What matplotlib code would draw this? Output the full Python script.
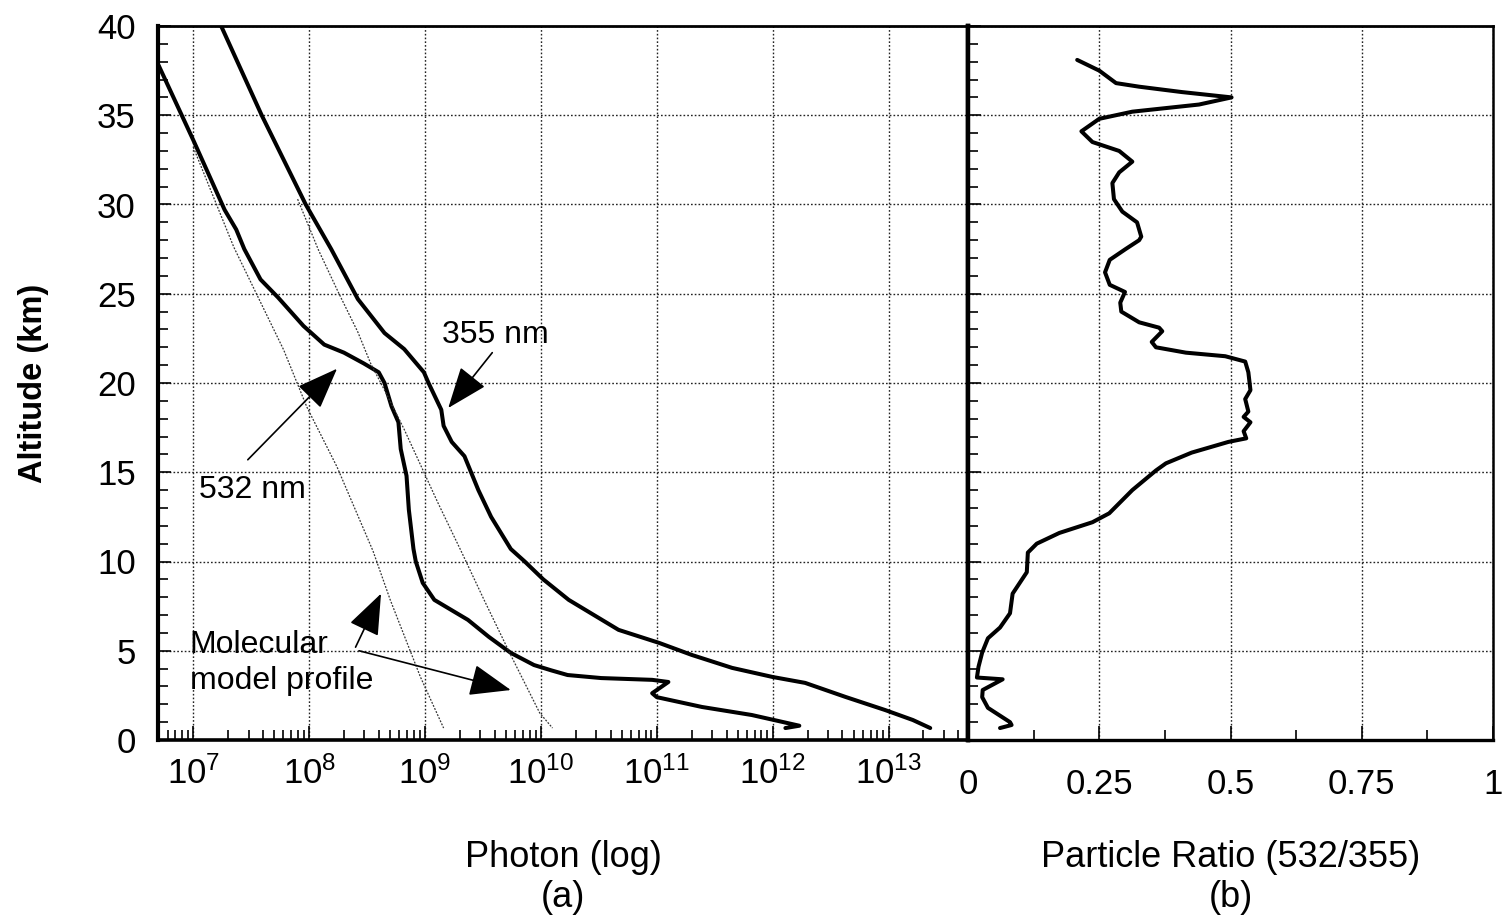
import matplotlib
matplotlib.use("Agg")
import matplotlib.pyplot as plt
from matplotlib.ticker import MultipleLocator, LogLocator, NullFormatter, FixedLocator
import numpy as np

plt.rcParams['font.family'] = ['Liberation Sans', 'DejaVu Sans']
plt.rcParams['mathtext.fontset'] = 'custom'
plt.rcParams['mathtext.rm'] = 'Liberation Sans'
plt.rcParams['mathtext.it'] = 'Liberation Sans:italic'
plt.rcParams['mathtext.bf'] = 'Liberation Sans:bold'

# ---- panel (a): backscatter photon profiles, values as log10(photons) ----
alt_355 = [40.0, 35.0, 30.0, 27.5, 24.7, 22.8, 21.9, 20.6, 20.0, 18.5, 17.6,
           16.7, 15.9, 14.0, 12.5, 10.7, 10.0, 9.0, 7.85, 6.17, 5.44, 4.77,
           4.04, 3.53, 3.2, 2.41, 1.68, 1.12, 0.67]
log_355 = [7.24, 7.59, 7.97, 8.19, 8.42, 8.65, 8.82, 8.99, 9.03, 9.14, 9.16,
           9.23, 9.34, 9.46, 9.57, 9.74, 9.86, 10.02, 10.24, 10.67, 11.02, 11.30,
           11.65, 12.0, 12.28, 12.63, 12.97, 13.21, 13.36]

alt_532 = [37.8, 33.6, 29.7, 28.6, 27.5, 25.8, 24.8, 23.2, 22.15, 21.7, 21.1,
           20.6, 20.0, 18.7, 17.8, 16.3, 14.8, 12.9, 10.7, 10.0, 8.8, 7.85,
           6.73, 5.78, 4.88, 4.2, 3.9, 3.64, 3.47, 3.37, 3.25, 2.62, 2.4,
           1.85, 1.4, 0.8, 0.67]
log_532 = [6.70, 7.0, 7.27, 7.37, 7.44, 7.58, 7.73, 7.95, 8.13, 8.30, 8.47,
           8.60, 8.65, 8.71, 8.77, 8.79, 8.84, 8.86, 8.90, 8.92, 8.98, 9.08,
           9.37, 9.55, 9.74, 9.94, 10.09, 10.23, 10.52, 10.96, 11.10, 10.96, 11.0,
           11.39, 11.82, 12.23, 12.11]

# molecular model profiles (thin dotted)
alt_mol_532 = [33.2, 27.6, 21.85, 18.65, 15.3, 10.6, 7.84, 3.53, 0.67]
log_mol_532 = [7.0, 7.35, 7.78, 7.98, 8.24, 8.55, 8.70, 8.96, 9.16]
alt_mol_355 = [30.3, 27.45, 25.1, 22.85, 21.1, 19.6, 17.4, 15.0, 13.3, 10.6,
               7.84, 4.88, 1.51, 0.67]
log_mol_355 = [7.90, 8.08, 8.25, 8.42, 8.53, 8.65, 8.82, 8.99, 9.11, 9.31,
               9.51, 9.73, 9.99, 10.10]

# ---- panel (b): particle ratio 532/355 ----
alt_ratio = [38.1, 37.5, 36.8, 36.6, 36.3, 36.0, 35.6, 35.2, 34.8, 34.1, 33.5,
             33.0, 32.4, 31.8, 31.2, 30.3, 29.6, 29.0, 28.2, 28.0, 27.5, 26.9,
             26.2, 25.5, 25.1, 24.5, 24.0, 23.4, 23.1, 22.9, 22.3, 22.0, 21.7,
             21.5, 21.2, 20.6, 19.6, 19.1, 18.4, 18.1, 17.8, 17.3, 16.9, 16.7,
             16.1, 15.5, 15.1, 14.0, 12.7, 12.2, 11.6, 11.0, 10.5, 9.4, 8.2,
             7.1, 6.3, 5.7, 4.9, 4.1, 3.5, 3.4, 2.8, 2.4, 1.8, 1.0, 0.84, 0.67]
ratio = [0.208, 0.25, 0.282, 0.326, 0.407, 0.502, 0.44, 0.313, 0.25, 0.216, 0.237,
         0.288, 0.313, 0.288, 0.275, 0.278, 0.294, 0.322, 0.33, 0.326, 0.30, 0.27,
         0.261, 0.27, 0.299, 0.29, 0.292, 0.326, 0.364, 0.37, 0.35, 0.358, 0.415,
         0.49, 0.528, 0.534, 0.538, 0.528, 0.534, 0.525, 0.538, 0.525, 0.53, 0.496,
         0.426, 0.377, 0.358, 0.313, 0.269, 0.237, 0.174, 0.131, 0.114, 0.112, 0.085,
         0.08, 0.061, 0.038, 0.027, 0.02, 0.017, 0.066, 0.028, 0.027, 0.038, 0.08, 0.083, 0.061]

W, H = 1503, 921
fig = plt.figure(figsize=(W / 100, H / 100), dpi=100)
ax1 = fig.add_axes([158 / W, 1 - 740 / H, (968 - 158) / W, (740 - 26) / H])
ax2 = fig.add_axes([968 / W, 1 - 740 / H, (1493 - 968) / W, (740 - 26) / H])

lw_thick = 2.9
curve_kw = dict(color='black', lw=lw_thick, solid_capstyle='round', solid_joinstyle='round')
ax1.plot(10 ** np.array(log_355), alt_355, **curve_kw)
ax1.plot(10 ** np.array(log_532), alt_532, **curve_kw)
ax1.plot(10 ** np.array(log_mol_532), alt_mol_532, color='#333333', lw=0.9, ls=(0, (1.5, 1.2)))
ax1.plot(10 ** np.array(log_mol_355), alt_mol_355, color='#333333', lw=0.9, ls=(0, (1.5, 1.2)))

ax1.set_xscale('log')
ax1.set_xlim(10 ** 6.695, 10 ** 13.686)
ax1.set_ylim(0, 40)
ax1.xaxis.set_major_locator(LogLocator(base=10, numticks=20))
ax1.xaxis.set_minor_locator(LogLocator(base=10, subs=np.arange(2, 10), numticks=20))
ax1.xaxis.set_minor_formatter(NullFormatter())
ax1.yaxis.set_major_locator(MultipleLocator(5))
ax1.yaxis.set_minor_locator(MultipleLocator(1))

grid_kw = dict(color='#222222', lw=1.0, ls=(0, (1.2, 1.5)))
ax1.grid(True, which='major', **grid_kw)
ax1.tick_params(axis='both', which='both', direction='in', top=False, right=False,
                labelsize=25, width=1.2)
ax1.tick_params(axis='x', which='major', length=10, pad=12)
ax1.tick_params(axis='x', which='minor', length=7)
ax1.tick_params(axis='y', which='major', length=9, pad=16)
ax1.tick_params(axis='y', which='minor', length=7)

ax1.spines['left'].set_linewidth(3.0)
ax1.spines['bottom'].set_linewidth(2.6)
ax1.spines['top'].set_linewidth(2.0)
ax1.spines['right'].set_linewidth(3.2)

ax1.set_ylabel('Altitude (km)', fontsize=23.5, fontweight='bold')
ax1.yaxis.set_label_coords(-0.134, 0.5)

# x-axis captions as two lines each
cap_kw = dict(fontsize=26, ha='center', va='center')
ax1.text(0.5, -0.164, 'Photon (log)', transform=ax1.transAxes, **cap_kw)
ax1.text(0.5, -0.221, '(a)', transform=ax1.transAxes, **cap_kw)

arrow_kw = dict(arrowstyle='-|>,head_length=1.3,head_width=0.5', lw=1.2,
                color='black', shrinkA=0, shrinkB=0, mutation_scale=20)
ax1.text(10 ** 9.61, 22.7, '355 nm', fontsize=23, ha='center', va='center')
ax1.annotate('', xy=(10 ** 9.20, 18.6), xytext=(10 ** 9.58, 21.7), arrowprops=arrow_kw)
ax1.text(10 ** 7.51, 14.0, '532 nm', fontsize=23, ha='center', va='center')
ax1.annotate('', xy=(10 ** 8.24, 20.8), xytext=(10 ** 7.47, 15.7), arrowprops=arrow_kw)
ax1.text(10 ** 6.97, 5.35, 'Molecular', fontsize=23, ha='left', va='center')
ax1.text(10 ** 6.97, 3.3, 'model profile', fontsize=23, ha='left', va='center')
ax1.annotate('', xy=(10 ** 8.62, 8.2), xytext=(10 ** 8.40, 5.2), arrowprops=arrow_kw)
ax1.annotate('', xy=(10 ** 9.74, 2.8), xytext=(10 ** 8.43, 5.0), arrowprops=arrow_kw)

# panel (b)
ax2.plot(ratio, alt_ratio, **curve_kw)
ax2.set_xlim(0, 1)
ax2.set_ylim(0, 40)
ax2.xaxis.set_major_locator(FixedLocator([0, 0.25, 0.5, 0.75, 1]))
ax2.xaxis.set_minor_locator(FixedLocator([0.125, 0.375, 0.625, 0.875]))
ax2.set_xticklabels(['0', '0.25', '0.5', '0.75', '1'])
ax2.yaxis.set_major_locator(MultipleLocator(5))
ax2.yaxis.set_minor_locator(MultipleLocator(1))
ax2.grid(True, which='major', **grid_kw)
ax2.tick_params(axis='both', which='both', direction='in', top=False, right=False,
                labelleft=False, labelsize=25, width=1.2)
ax2.tick_params(axis='x', which='major', length=10, pad=20)
ax2.tick_params(axis='x', which='minor', length=7)
ax2.tick_params(axis='y', which='major', length=9)
ax2.tick_params(axis='y', which='minor', length=7)
ax2.spines['left'].set_linewidth(3.2)
ax2.spines['bottom'].set_linewidth(2.4)
ax2.spines['top'].set_linewidth(2.0)
ax2.spines['right'].set_linewidth(1.8)

ax2.text(0.5, -0.164, 'Particle Ratio (532/355)', transform=ax2.transAxes, **cap_kw)
ax2.text(0.5, -0.221, '(b)', transform=ax2.transAxes, **cap_kw)

fig.savefig('out.png', dpi=100, facecolor='white')
